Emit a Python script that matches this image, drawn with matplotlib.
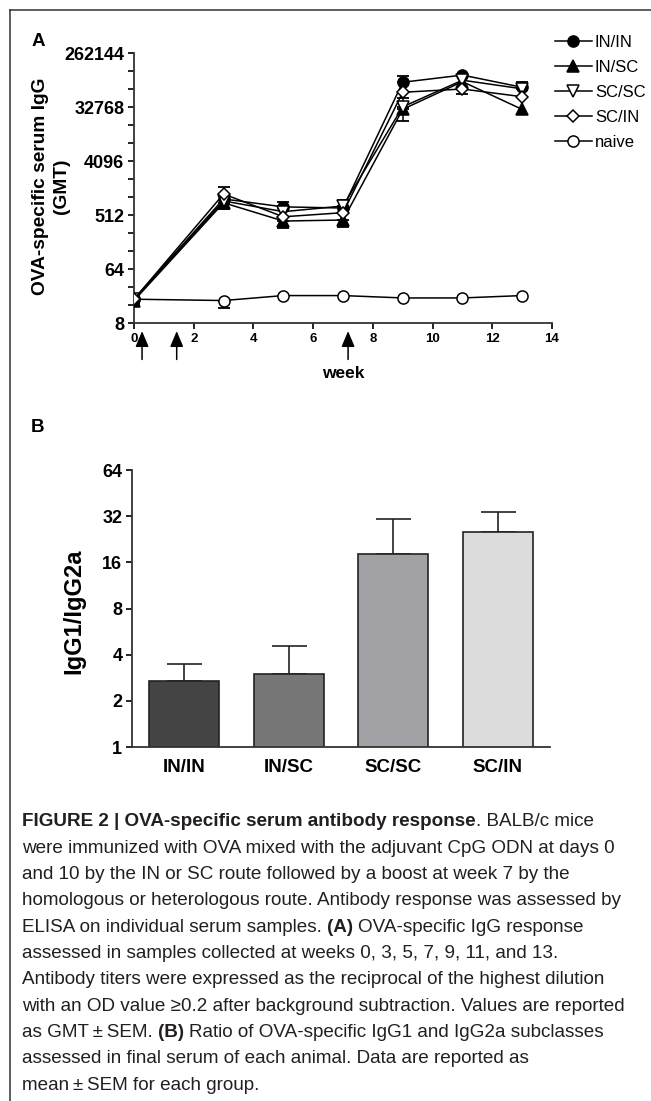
import numpy as np
import matplotlib
matplotlib.use('Agg')
import matplotlib.pyplot as plt
from matplotlib.lines import Line2D

# panel A: OVA-specific IgG (GMT) per week
weeks = [0, 3, 5, 7, 9, 11, 13]
gmt_in_in = [20, 950, 700, 670, 85000, 112000, 70000]
gmt_in_sc = [19, 820, 406, 422, 30000, 87000, 29900]
gmt_sc_sc = [20, 880, 582, 724, 33000, 92000, 66000]
gmt_sc_in = [20, 1150, 478, 560, 57800, 65500, 48700]
gmt_naive = [20, 19, 23, 23, 21, 21, 23]
nan = np.nan
# error bar ends (nan = no visible bar)
lo_in_in = [nan, nan, nan, nan, nan, nan, nan]
hi_in_in = [nan, nan, 836, nan, 109000, nan, nan]
lo_in_sc = [nan, 645, 311, 326, nan, nan, nan]
hi_in_sc = [nan, nan, nan, nan, 46000, nan, nan]
lo_sc_sc = [nan, nan, nan, nan, 19300, nan, nan]
hi_sc_sc = [nan, nan, nan, 912, nan, nan, 87000]
lo_sc_in = [nan, nan, nan, nan, nan, 54000, nan]
hi_sc_in = [nan, 1520, nan, nan, nan, nan, nan]
lo_naive = [16.6, 14.4, nan, nan, nan, nan, nan]
hi_naive = [nan, nan, nan, nan, nan, nan, nan]
boost_weeks = [0.27, 1.43, 7.17]

# panel B: IgG1/IgG2a ratio
ratio_groups = ['IN/IN', 'IN/SC', 'SC/SC', 'SC/IN']
ratio_mean = [2.69, 2.99, 18.2, 25.3]
ratio_sem = [0.77, 1.6, 12.4, 9.0]
bar_colors = ['#444444', '#777777', '#a2a1a5', '#dcdcdc']

W, H = 651, 1101


def px(x, y, w, h):
    return [x / W, 1 - (y + h) / H, w / W, h / H]


fig = plt.figure(figsize=(W / 100, H / 100), dpi=100)
plt.rcParams['font.family'] = ['Liberation Sans', 'DejaVu Sans']

# frame of the figure box
fig.add_artist(Line2D([10 / W, 10 / W], [0, 1 - 10 / H], color='#333333', lw=1.1, transform=fig.transFigure))
fig.add_artist(Line2D([10 / W, 1], [1 - 10 / H, 1 - 10 / H], color='#333333', lw=1.1, transform=fig.transFigure))

# ---------------- panel A
ax = fig.add_axes(px(134, 53, 418, 270))
series = [
    (gmt_naive, lo_naive, hi_naive, 'o', 'white', 8, 'naive'),
    (gmt_in_in, lo_in_in, hi_in_in, 'o', 'black', 8, 'IN/IN'),
    (gmt_in_sc, lo_in_sc, hi_in_sc, '^', 'black', 8, 'IN/SC'),
    (gmt_sc_sc, lo_sc_sc, hi_sc_sc, 'v', 'white', 8, 'SC/SC'),
    (gmt_sc_in, lo_sc_in, hi_sc_in, 'D', 'white', 6.5, 'SC/IN'),
]
handles = {}
for vals, lo, hi, m, fc, ms, name in series:
    v = np.array(vals, float)
    lo = np.array(lo, float)
    hi = np.array(hi, float)
    for i in range(len(v)):
        if not np.isnan(lo[i]):
            ax.errorbar([weeks[i]], [v[i]], yerr=[[v[i] - lo[i]], [0]], fmt='none', ecolor='k',
                        elinewidth=1.1, capsize=4.3, capthick=1.3, zorder=2)
        if not np.isnan(hi[i]):
            ax.errorbar([weeks[i]], [v[i]], yerr=[[0], [hi[i] - v[i]]], fmt='none', ecolor='k',
                        elinewidth=1.1, capsize=4.3, capthick=1.3, zorder=2)
    ln, = ax.plot(weeks, v, color='k', lw=1.1, marker=m, mfc=fc, mec='k', mew=1.1, ms=ms, zorder=3)
    handles[name] = ln

ax.set_yscale('log', base=2)
ax.set_ylim(8, 262144)
ax.set_xlim(0, 14)
major = [8, 64, 512, 4096, 32768, 262144]
ax.set_yticks(major)
ax.set_yticklabels([str(t) for t in major], fontsize=13, fontweight='bold')
ax.set_yticks([2 ** k for k in range(3, 19) if 2 ** k not in major], minor=True)
ax.yaxis.set_minor_formatter(plt.NullFormatter())
ax.set_xticks(range(0, 15, 2))
ax.set_xticklabels([str(t) for t in range(0, 15, 2)], fontsize=9.5, fontweight='bold')
ax.tick_params(which='both', direction='out', length=4, width=1.2, pad=3)
for s in ['top', 'right']:
    ax.spines[s].set_visible(False)
for s in ['left', 'bottom']:
    ax.spines[s].set_linewidth(1.3)
    ax.spines[s].set_color('#333333')
ax.set_ylabel('OVA-specific serum IgG\n(GMT)', fontsize=13.8, fontweight='bold', linespacing=1.3)
ax.yaxis.set_label_coords(-0.153, 0.507)
ax.set_xlabel('week', fontsize=12.5, fontweight='bold', labelpad=15)
for wk in boost_weeks:
    ax.annotate('', xy=(wk, -0.03), xycoords=('data', 'axes fraction'),
                xytext=(wk, -0.135), textcoords=('data', 'axes fraction'),
                arrowprops=dict(arrowstyle='-|>,head_length=0.95,head_width=0.4', color='k',
                                lw=1.1, shrinkA=0, shrinkB=0, mutation_scale=10), annotation_clip=False)
fig.text(38 / W, 1 - 42 / H, 'A', fontsize=13.5, fontweight='bold', ha='center', va='center')

order = ['IN/IN', 'IN/SC', 'SC/SC', 'SC/IN', 'naive']
fig.legend([handles[k] for k in order], order, loc='upper left',
           bbox_to_anchor=(555 / W, 1 - 35 / H), frameon=False, fontsize=12,
           handlelength=2.2, handletextpad=0.2, labelspacing=0.6, borderpad=0, borderaxespad=0)

# ---------------- panel B
bx = fig.add_axes(px(132, 470, 418, 277))
xpos = np.arange(len(ratio_groups))
bx.set_yscale('log', base=2)
bx.bar(xpos, ratio_mean, width=0.667, color=bar_colors, edgecolor='#222222', lw=1.2, zorder=2)
bx.errorbar(xpos, ratio_mean, yerr=[np.zeros(len(ratio_sem)), ratio_sem], fmt='none', ecolor='#222222',
            elinewidth=1.2, capsize=12.6, capthick=1.2, zorder=1)
bx.set_ylim(1, 64)
bx.set_xlim(-0.5, 3.5)
yt = [1, 2, 4, 8, 16, 32, 64]
bx.set_yticks(yt)
bx.set_yticklabels([str(t) for t in yt], fontsize=13, fontweight='bold')
bx.yaxis.set_minor_locator(plt.NullLocator())
bx.set_xticks(xpos)
bx.set_xticklabels(ratio_groups, fontsize=13.5, fontweight='bold')
bx.tick_params(axis='y', direction='out', length=4, width=1.2, pad=3)
bx.tick_params(axis='x', length=0, pad=9)
for s in ['top', 'right']:
    bx.spines[s].set_visible(False)
for s in ['left', 'bottom']:
    bx.spines[s].set_linewidth(1.3)
    bx.spines[s].set_color('#333333')
bx.set_ylabel('IgG1/IgG2a', fontsize=17, fontweight='bold')
bx.yaxis.set_label_coords(-0.112, 0.49)
fig.text(38 / W, 1 - 428 / H, 'B', fontsize=13.5, fontweight='bold', ha='center', va='center')

# ---------------- caption
caption = [
    [('FIGURE 2 | OVA-specific serum antibody response', True), ('. BALB/c mice', False)],
    [('were immunized with OVA mixed with the adjuvant CpG ODN at days 0', False)],
    [('and 10 by the IN or SC route followed by a boost at week 7 by the', False)],
    [('homologous or heterologous route. Antibody response was assessed by', False)],
    [('ELISA on individual serum samples. ', False), ('(A)', True), (' OVA-specific IgG response', False)],
    [('assessed in samples collected at weeks 0, 3, 5, 7, 9, 11, and 13.', False)],
    [('Antibody titers were expressed as the reciprocal of the highest dilution', False)],
    [('with an OD value \u22650.2 after background subtraction. Values are reported', False)],
    [('as GMT\u2009\u00b1\u2009SEM. ', False), ('(B)', True), (' Ratio of OVA-specific IgG1 and IgG2a subclasses', False)],
    [('assessed in final serum of each animal. Data are reported as', False)],
    [('mean\u2009\u00b1\u2009SEM for each group.', False)],
]
renderer = fig.canvas.get_renderer()
cap_size = 13.6


def text_width(s, bold):
    t = fig.text(0, 0, s, fontsize=cap_size, fontweight='bold' if bold else 'normal')
    w = t.get_window_extent(renderer).width
    t.remove()
    return w


space_w = text_width('x x', False) - text_width('xx', False)
y0 = 822
for i, segs in enumerate(caption):
    x = 22
    y = 1 - (y0 + i * 26.3) / H
    for s, bold in segs:
        lead = s.startswith(' ')
        trail = s.endswith(' ')
        s2 = s.strip(' ')
        if lead:
            x += space_w
        t = fig.text(x / W, y, s2, fontsize=cap_size, fontweight='bold' if bold else 'normal',
                     color='#231f20', va='center', ha='left')
        x += t.get_window_extent(renderer).width
        if trail:
            x += space_w

fig.savefig('out.png', dpi=100)
